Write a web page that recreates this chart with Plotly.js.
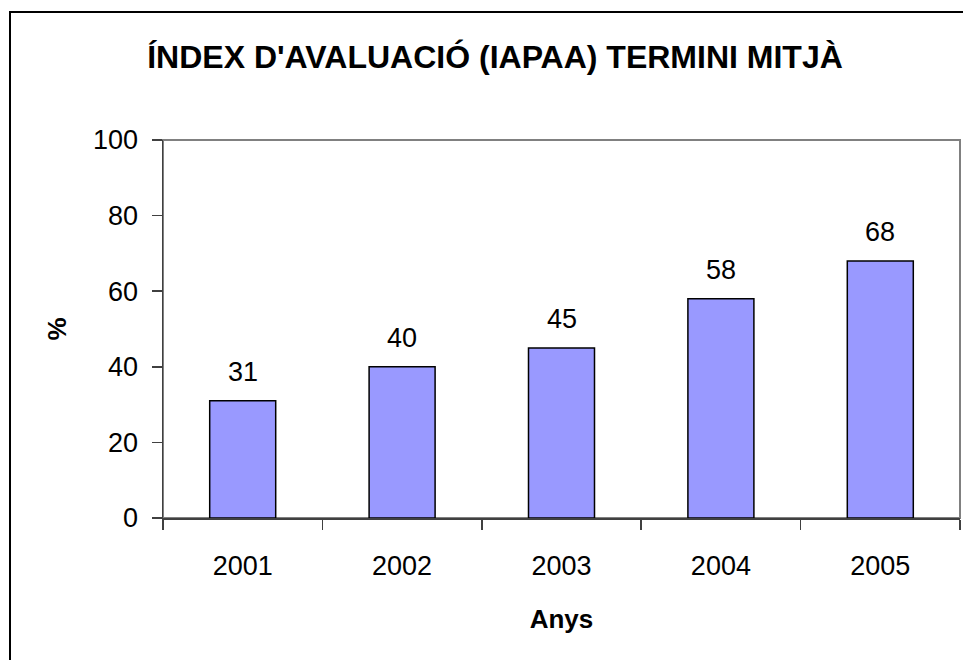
<!DOCTYPE html>
<html>
<head>
<meta charset="utf-8">
<script src="https://cdn.plot.ly/plotly-3.0.1.min.js"></script>
<style>body{margin:0;padding:0;background:#fff}</style>
</head>
<body>
<div id="chart" style="width:963px;height:660px"></div>
<script>
const categories = ["2001", "2002", "2003", "2004", "2005"];
const values = [31, 40, 45, 58, 68];
const yTicks = [0, 20, 40, 60, 80, 100];

const W = 963, H = 660;
const M = {l: 163, r: 3, t: 140, b: 142};
const pw = W - M.l - M.r, ph = H - M.t - M.b;
const px = x => (x - M.l) / pw;
const py = y => (H - M.b - y) / ph;

const font = "Arial, 'Liberation Sans', sans-serif";

const data = [{
  type: "bar",
  x: categories,
  y: values,
  marker: {color: "#9999FF", line: {color: "#000000", width: 1.5}},
  hoverinfo: "skip"
}];

const annotations = categories.map((c, i) => ({
  x: i, y: values[i], xref: "x", yref: "y",
  text: String(values[i]),
  showarrow: false, yanchor: "bottom", yshift: 12,
  font: {family: font, size: 27, color: "#000"}
}));

const layout = {
  width: W, height: H,
  margin: M,
  paper_bgcolor: "#fff", plot_bgcolor: "#fff",
  showlegend: false,
  bargap: 0.586,
  title: {
    text: "<b>ÍNDEX D'AVALUACIÓ (IAPAA) TERMINI MITJÀ</b>",
    font: {family: font, size: 32, color: "#000"},
    x: px(495), xanchor: "center", xref: "paper",
    y: 1 - 57 / H, yanchor: "middle", yref: "container"
  },
  xaxis: {
    type: "category",
    range: [-0.5, categories.length - 0.5],
    showgrid: false, zeroline: false,
    showline: true, linecolor: "#404040", linewidth: 1.5,
    ticks: "outside", tickson: "boundaries", ticklen: 10, tickcolor: "#404040", tickwidth: 1.5,
    tickfont: {family: font, size: 27, color: "#000"},
    tickangle: 0,
    ticklabelstandoff: 23,
    title: {text: "<b>Anys</b>", font: {family: font, size: 26, color: "#000"}, standoff: 30}
  },
  yaxis: {
    range: [0, 100],
    tickvals: yTicks,
    showgrid: false, zeroline: false,
    showline: true, linecolor: "#404040", linewidth: 1.5,
    ticks: "outside", ticklen: 10, tickcolor: "#404040", tickwidth: 1.5,
    tickfont: {family: font, size: 27, color: "#000"},
    ticklabelstandoff: 8,
    title: {text: "<b>%</b>", font: {family: font, size: 26, color: "#000"}, standoff: 19}
  },
  annotations: annotations,
  shapes: [
    {type: "rect", xref: "paper", yref: "paper", x0: 0, x1: 1, y0: 0, y1: 1,
     line: {color: "#808080", width: 2}, layer: "below"},
    {type: "rect", xref: "paper", yref: "paper",
     x0: px(10), x1: px(980), y0: py(690), y1: py(12),
     line: {color: "#000000", width: 2}}
  ]
};

Plotly.newPlot("chart", data, layout, {staticPlot: true, displayModeBar: false});
</script>
</body>
</html>
